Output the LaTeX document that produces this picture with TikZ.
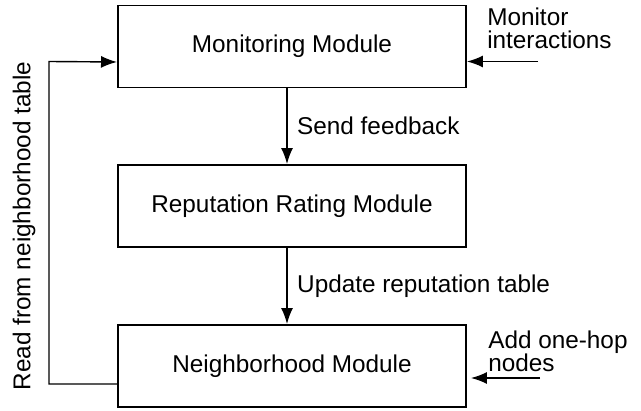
\documentclass[tikz,border=0pt]{standalone}
\usepackage{fontspec}
\setmainfont{Liberation Sans}
\usetikzlibrary{arrows.meta}
\tikzset{
  module/.style={draw, line width=1.4pt, minimum width=8.7cm, minimum height=2.05cm,
    font=\fontsize{17.3}{16.5}\selectfont},
  flow/.style={-{Latex[length=0.4cm,width=0.3cm]}, line width=1pt},
  note/.style={font=\fontsize{17.3}{16.5}\selectfont, align=left, inner sep=0pt},
}
\begin{document}
\begin{tikzpicture}
\useasboundingbox (0,0) rectangle (16.025,10.25);
%
\node (mon) at (7.3,9.0875) [module] {Monitoring Module};
\node (rep) at (7.3,5.1)    [module] {Reputation Rating Module};
\node (nbr) at (7.3,1.1)    [module] {Neighborhood Module};
%
\draw [flow] ([xshift=-0.125cm]mon.south) -- ([xshift=-0.125cm]rep.north)
  node[pos=0.5,right,xshift=0.12cm]{\fontsize{17.3}{16.5}\selectfont Send feedback};
\draw [flow] ([xshift=-0.125cm]rep.south) -- ([xshift=-0.125cm]nbr.north)
  node[pos=0.5,right,xshift=0.12cm]{\fontsize{17.3}{16.5}\selectfont Update reputation table};
%
\node (inmon) at (12.175,9.5375) [note, anchor=west] {Monitor\\interactions};
\coordinate (srcmon) at (13.45,8.7125);
\draw [flow] (srcmon) -- (srcmon -| mon.east);
%
\node (innbr) at (12.2,1.475) [note, anchor=west] {Add one-hop\\nodes};
\coordinate (srcnbr) at (13.5,0.8);
\draw [flow] (srcnbr) -- ([xshift=0.1cm]srcnbr -| nbr.east);
%
\draw [flow]
     ([yshift=-0.45cm]nbr.west)
  -| (1.225,8.7125)
  -- ([yshift=-0.3875cm]mon.west);
\node (read) at (0.6,4.6) [note, rotate=90] {Read from neighborhood table};
\end{tikzpicture}
\end{document}
